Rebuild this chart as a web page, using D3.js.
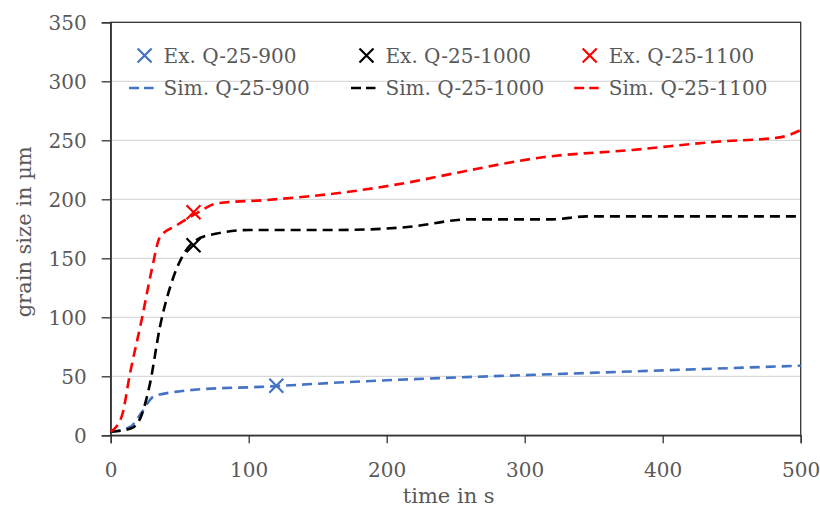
<!DOCTYPE html>
<html>
<head>
<meta charset="utf-8">
<script src="https://cdn.jsdelivr.net/npm/d3@7"></script>
<style>
  body { margin: 0; background: #fff; }
  svg text { font-family: "DejaVu Serif", serif; fill: #595959; }
</style>
</head>
<body>
<svg id="chart" width="820" height="510"></svg>
<script>
// simulated curves (time in s, grain size in µm)
const sim900T  = [0, 14, 22, 31, 48, 65, 108, 170, 250, 300, 400, 500];
const sim900V  = [3, 7, 18.6, 32.7, 37, 39, 41, 45, 49, 51, 55, 59];
const sim1000T = [0, 15, 22, 28.5, 35.7, 44, 52.6, 62, 77, 101, 137, 165, 215, 260, 320, 345, 500];
const sim1000V = [3, 6, 16, 44, 92, 129, 153, 165.5, 171, 174, 174, 174, 176.5, 183, 183, 185.5, 185.5];
const sim1100T = [0, 8, 14, 22.4, 29.7, 35.7, 47.8, 62, 77, 113, 170, 219, 253, 313, 378, 439, 485, 500];
const sim1100V = [3, 16, 52.5, 97.7, 140, 168, 178, 188, 196.6, 199.4, 206, 215, 223, 235.6, 241.8, 248.8, 252.5, 258.7];

// experiments
const exT = [120, 60, 60];
const exV = [42, 161, 189];

const labels = ['Q-25-900', 'Q-25-1000', 'Q-25-1100'];
const colors = ['#4472C4', '#000000', '#FF0000'];
const xTicks = [0, 100, 200, 300, 400, 500];
const yTicks = [0, 50, 100, 150, 200, 250, 300, 350];

const svg = d3.select('#chart');
const plotLeft = 110.7, plotRight = 800.7, plotTop = 22.3, plotBottom = 435.3;

const x = d3.scaleLinear().domain([0, 500]).range([plotLeft, plotRight]);
const y = d3.scaleLinear().domain([0, 350]).range([plotBottom, plotTop]);

// gridlines
svg.append('g')
    .selectAll('line')
    .data(yTicks.filter(d => d > 0 && d < 350))
    .enter()
    .append('line')
    .attr('x1', plotLeft).attr('x2', plotRight)
    .attr('y1', d => y(d)).attr('y2', d => y(d))
    .attr('stroke', '#d9d9d9')
    .attr('stroke-width', 1.3);

// box
svg.append('rect')
    .attr('x', plotLeft).attr('y', plotTop)
    .attr('width', plotRight - plotLeft).attr('height', plotBottom - plotTop)
    .attr('fill', 'none')
    .attr('stroke', '#333')
    .attr('stroke-width', 1.3);

// axes
const xAxis = svg.append('g')
    .attr('transform', `translate(0,${plotBottom})`)
    .call(d3.axisBottom(x).tickValues(xTicks).tickSize(8).tickPadding(16));
const yAxis = svg.append('g')
    .attr('transform', `translate(${plotLeft},0)`)
    .call(d3.axisLeft(y).tickValues(yTicks).tickSize(9).tickPadding(16));

[xAxis, yAxis].forEach(function(a){
    a.select('.domain').attr('stroke', '#333').attr('stroke-width', 1.3);
    a.selectAll('.tick line').attr('stroke', '#333').attr('stroke-width', 1.3);
    a.selectAll('.tick text')
        .attr('fill', '#595959')
        .style('font-family', '"DejaVu Serif", serif')
        .style('font-size', '20px');
});
yAxis.selectAll('.tick text').attr('x', -24).attr('dy', '0.35em');
xAxis.selectAll('.tick text').attr('dy', '0.9em');

// axis titles
svg.append('text')
    .attr('x', (plotLeft + plotRight) / 2 - 7)
    .attr('y', 503)
    .attr('text-anchor', 'middle')
    .style('font-size', '21px')
    .text('time in s');

svg.append('text')
    .attr('transform', `translate(31,${(plotTop + plotBottom) / 2 + 3}) rotate(-90)`)
    .attr('text-anchor', 'middle')
    .style('font-size', '21px')
    .text('grain size in µm');

// simulated lines
const sims = [
    d3.zip(sim900T, sim900V),
    d3.zip(sim1000T, sim1000V),
    d3.zip(sim1100T, sim1100V)
];

const line = d3.line()
    .x(d => x(d[0]))
    .y(d => y(d[1]))
    .curve(d3.curveMonotoneX);

svg.append('g')
    .selectAll('path')
    .data(sims)
    .enter()
    .append('path')
    .attr('d', line)
    .attr('fill', 'none')
    .attr('stroke', (d, i) => colors[i])
    .attr('stroke-width', 2.6)
    .attr('stroke-dasharray', '10,6');

// X marker
function cross(g, cx, cy, color){
    const s = 7;
    g.append('path')
        .attr('d', `M${cx - s},${cy - s}L${cx + s},${cy + s}M${cx - s},${cy + s}L${cx + s},${cy - s}`)
        .attr('stroke', color)
        .attr('stroke-width', 2.2)
        .attr('fill', 'none');
}

const markers = svg.append('g');
exT.forEach(function(t, i){
    cross(markers, x(t), y(exV[i]), colors[i]);
});

// legend
const legendX = [144.6, 366.5, 589.7];
const legend = svg.append('g');
labels.forEach(function(name, i){
    cross(legend, legendX[i], 55.5, colors[i]);
    legend.append('text')
        .attr('x', legendX[i] + 19)
        .attr('y', 55.5)
        .attr('dy', '0.35em')
        .style('font-size', '20px')
        .text('Ex. ' + name);

    legend.append('line')
        .attr('x1', legendX[i] - 15.5).attr('x2', legendX[i] + 9)
        .attr('y1', 88).attr('y2', 88)
        .attr('stroke', colors[i])
        .attr('stroke-width', 2.6)
        .attr('stroke-dasharray', '10,5');
    legend.append('text')
        .attr('x', legendX[i] + 19)
        .attr('y', 88)
        .attr('dy', '0.35em')
        .style('font-size', '20px')
        .text('Sim. ' + name);
});
</script>
</body>
</html>
